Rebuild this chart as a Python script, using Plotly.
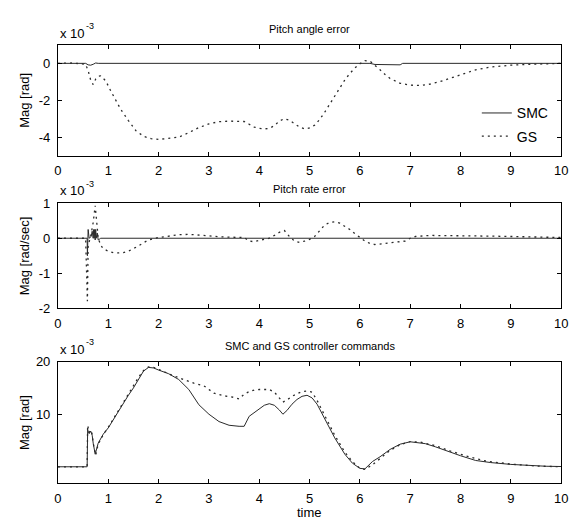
import plotly.graph_objects as go

# ---- Pitch angle error (x 1e-3 rad) ----
t_angle_smc = [0, 0.55, 0.6, 0.65, 0.7, 0.75, 0.8, 6.2, 6.3, 6.8, 6.85, 10]
angle_smc = [0, 0, -0.08, -0.1, -0.05, 0.02, 0, 0, -0.06, -0.08, 0, 0]

t_angle_gs = [0, 0.3, 0.55, 0.6, 0.65, 0.7, 0.75, 0.8, 0.85, 0.95,
              1.05, 1.15, 1.25, 1.4, 1.55, 1.7, 1.85, 2.0, 2.2, 2.4,
              2.6, 2.8, 3.0, 3.2, 3.4, 3.6, 3.7, 3.8, 3.9, 4.0,
              4.1, 4.2, 4.3, 4.4, 4.5, 4.6, 4.7, 4.8, 4.9, 5.0,
              5.1, 5.2, 5.3, 5.4, 5.5, 5.6, 5.7, 5.8, 5.9, 6.0,
              6.1, 6.2, 6.3, 6.4, 6.5, 6.6, 6.8, 7.0, 7.2, 7.4,
              7.6, 7.8, 8.0, 8.3, 8.6, 9.0, 9.4, 9.8, 10]
angle_gs = [0, 0.02, -0.05, -0.4, -0.9, -1.15, -0.85, -0.7, -0.68, -0.95,
            -1.5, -2.0, -2.5, -3.1, -3.65, -3.95, -4.08, -4.12, -4.08, -4.0,
            -3.75, -3.48, -3.28, -3.16, -3.13, -3.12, -3.15, -3.3, -3.45, -3.52,
            -3.55, -3.52, -3.38, -3.12, -3.0, -3.08, -3.25, -3.45, -3.55, -3.5,
            -3.35, -3.05, -2.65, -2.2, -1.75, -1.3, -0.9, -0.55, -0.25, -0.02,
            0.15, 0.12, -0.1, -0.35, -0.6, -0.82, -1.08, -1.18, -1.2, -1.12,
            -0.98, -0.8, -0.62, -0.35, -0.2, -0.1, -0.05, -0.02, 0]

# ---- Pitch rate error (x 1e-3 rad/sec) ----
t_rate_smc = [0, 0.58, 0.585, 0.59, 0.6, 0.62, 0.66, 0.68, 0.7, 0.71,
              0.72, 0.73, 0.74, 0.75, 0.76, 0.78, 0.8, 0.85, 10]
rate_smc = [0, 0, -0.5, 0.2, 0.25, 0.0, 0.05, 0.2, 0.0, 0.25,
            0.0, 0.25, -0.05, 0.25, 0.0, 0.15, -0.05, 0, 0]

t_rate_gs = [0, 0.3, 0.55, 0.585, 0.6, 0.65, 0.7, 0.74, 0.77, 0.8,
             0.85, 0.9, 1.0, 1.1, 1.2, 1.3, 1.4, 1.5, 1.6, 1.7,
             1.8, 2.0, 2.2, 2.4, 2.6, 2.8, 3.0, 3.2, 3.4, 3.6,
             3.7, 3.8, 3.9, 4.0, 4.2, 4.3, 4.4, 4.5, 4.6, 4.7,
             4.8, 4.9, 5.0, 5.1, 5.2, 5.3, 5.4, 5.5, 5.6, 5.7,
             5.8, 5.9, 6.0, 6.1, 6.2, 6.3, 6.5, 6.7, 6.9, 7.0,
             7.1, 7.4, 7.8, 8.2, 8.6, 9.0, 9.5, 10]
rate_gs = [0, 0, 0, -1.8, -0.2, 0.05, 0.45, 0.93, 0.5, 0.0,
           -0.2, -0.3, -0.37, -0.41, -0.42, -0.41, -0.37, -0.3, -0.22, -0.13,
           -0.05, 0.02, 0.06, 0.1, 0.11, 0.1, 0.07, 0.04, 0.03, 0.03,
           0.02, -0.08, -0.1, -0.06, 0.0, 0.08, 0.17, 0.22, 0.05, -0.08,
           -0.12, -0.08, -0.03, 0.05, 0.22, 0.38, 0.45, 0.47, 0.43, 0.35,
           0.25, 0.13, 0.02, -0.08, -0.15, -0.18, -0.15, -0.12, -0.08, 0.0,
           0.05, 0.08, 0.08, 0.08, 0.06, 0.05, 0.03, 0.02]

# ---- Controller commands (x 1e-3 rad) ----
t_cmd_smc = [0, 0.58, 0.59, 0.62, 0.65, 0.68, 0.7, 0.74, 0.8, 0.9,
             1.0, 1.1, 1.2, 1.3, 1.4, 1.5, 1.6, 1.7, 1.8, 1.9,
             2.0, 2.2, 2.4, 2.6, 2.8, 3.0, 3.2, 3.4, 3.6, 3.7,
             3.8, 3.9, 4.0, 4.1, 4.2, 4.3, 4.4, 4.47, 4.55, 4.65,
             4.75, 4.85, 4.95, 5.05, 5.15, 5.3, 5.5, 5.7, 5.85, 6.0,
             6.1, 6.25, 6.4, 6.6, 6.8, 7.0, 7.15, 7.3, 7.5, 7.7,
             8.0, 8.3, 8.6, 9.0, 9.4, 9.7, 10]
cmd_smc = [0, 0, 7.0, 6.3, 6.8, 6.0, 4.5, 2.4, 4.5, 6.2,
           7.4, 9.0, 10.6, 12.2, 13.6, 15.0, 16.6, 18.2, 18.9, 18.8,
           18.4, 17.7, 16.6, 14.7, 11.8, 10.0, 8.6, 7.9, 7.7, 7.7,
           9.6, 10.3, 11.0, 11.7, 12.0, 11.7, 10.8, 10.0, 10.7, 11.9,
           12.8, 13.4, 13.6, 13.1, 11.9, 9.2, 5.5, 2.4, 0.7, -0.3,
           -0.4, 1.0, 1.9, 3.3, 4.3, 4.75, 4.6, 4.4, 3.8, 3.1,
           2.1, 1.2, 0.8, 0.45, 0.2, 0.1, 0.05]

t_cmd_gs = [0, 0.58, 0.59, 0.62, 0.65, 0.68, 0.7, 0.75, 0.8, 0.9,
            1.0, 1.2, 1.4, 1.6, 1.7, 1.8, 1.9, 2.0, 2.1, 2.3,
            2.5, 2.7, 2.9, 3.1, 3.3, 3.5, 3.6, 3.7, 3.8, 3.9,
            4.0, 4.1, 4.2, 4.3, 4.4, 4.47, 4.55, 4.65, 4.75, 4.85,
            4.95, 5.05, 5.15, 5.3, 5.5, 5.7, 5.85, 6.0, 6.1, 6.25,
            6.4, 6.6, 6.8, 7.0, 7.2, 7.5, 7.8, 8.1, 8.5, 9.0,
            9.5, 10]
cmd_gs = [0, 0, 7.9, 6.5, 7.0, 6.2, 4.5, 2.2, 4.3, 6.1,
          7.5, 10.7, 13.8, 17.0, 18.3, 19.0, 18.9, 18.5, 18.0, 17.3,
          16.6, 15.9, 15.4, 14.0, 13.5, 13.2, 12.9, 13.8, 14.3, 14.6,
          14.7, 14.75, 14.7, 14.2, 13.2, 12.3, 12.7, 13.4, 13.9, 14.3,
          14.4, 14.2, 12.6, 9.8, 6.0, 2.8, 1.0, -0.3, -0.5, 0.4,
          1.6, 3.1, 4.2, 4.8, 4.7, 4.0, 3.0, 2.1, 1.1, 0.5,
          0.15, 0.0]

# ---- Axis ticks ----
x_ticks = [0, 1, 2, 3, 4, 5, 6, 7, 8, 9, 10]
angle_ticks = [-4, -2, 0]
rate_ticks = [-2, -1, 0, 1]
cmd_ticks = [10, 20]

W, H = 578, 528
FONT = "Liberation Sans, Arial, sans-serif"
LINE = "#2a2a2a"
DOT = "2px,4px"

# plot-area boxes in pixels: (top, bottom)
boxes = [(39, 153), (202, 310), (365, 490)]
x_left, x_right = 55, 568


def ydom(top, bottom):
    return [1 - bottom / H, 1 - top / H]


fig = go.Figure()

panels = [
    (t_angle_smc, angle_smc, t_angle_gs, angle_gs, "x", "y"),
    (t_rate_smc, rate_smc, t_rate_gs, rate_gs, "x2", "y2"),
    (t_cmd_smc, cmd_smc, t_cmd_gs, cmd_gs, "x3", "y3"),
]
for i, (ts, ys, tg, yg, xa, ya) in enumerate(panels):
    fig.add_trace(go.Scatter(x=ts, y=ys, mode="lines", name="SMC",
                             line=dict(color=LINE, width=1),
                             xaxis=xa, yaxis=ya, showlegend=(i == 0),
                             legendgroup="a"))
    fig.add_trace(go.Scatter(x=tg, y=yg, mode="lines", name="GS",
                             line=dict(color=LINE, width=1.3, dash=DOT),
                             xaxis=xa, yaxis=ya, showlegend=(i == 0),
                             legendgroup="b"))

common_x = dict(range=[0, 10], tickvals=x_ticks,
                ticktext=[str(v) for v in x_ticks],
                domain=[x_left / W, x_right / W], ticks="inside", ticklen=4,
                tickcolor="black", showline=True, linecolor="black",
                linewidth=1, mirror="ticks", showgrid=False, zeroline=False,
                tickfont=dict(family=FONT, size=13, color="black"),
                ticklabelstandoff=3)
common_y = dict(ticks="inside", ticklen=4, tickcolor="black", showline=True,
                linecolor="black", linewidth=1, mirror="ticks",
                showgrid=False, zeroline=False,
                tickfont=dict(family=FONT, size=13, color="black"),
                ticklabelstandoff=4)

fig.update_layout(
    width=W, height=H,
    margin=dict(l=0, r=0, t=0, b=0),
    paper_bgcolor="white", plot_bgcolor="white",
    xaxis=dict(common_x, anchor="y"),
    xaxis2=dict(common_x, anchor="y2"),
    xaxis3=dict(common_x, anchor="y3"),
    yaxis=dict(common_y, domain=ydom(*boxes[0]), range=[-5, 1],
               tickvals=angle_ticks, ticktext=[str(v) for v in angle_ticks],
               anchor="x"),
    yaxis2=dict(common_y, domain=ydom(*boxes[1]), range=[-2, 1],
                tickvals=rate_ticks, ticktext=[str(v) for v in rate_ticks],
                anchor="x2"),
    yaxis3=dict(common_y, domain=ydom(*boxes[2]), range=[-3.1, 20],
                tickvals=cmd_ticks, ticktext=[str(v) for v in cmd_ticks],
                anchor="x3"),
    legend=dict(x=482 / W, y=1 - 93 / H, xanchor="left", yanchor="top",
                bgcolor="rgba(0,0,0,0)", borderwidth=0,
                font=dict(family=FONT, size=14, color="black"),
                tracegroupgap=2),
    showlegend=True,
)

titles = ["Pitch angle error", "Pitch rate error",
          "SMC and GS controller commands"]
ylabels = ["Mag [rad]", "Mag [rad/sec]", "Mag [rad]"]
title_y = [23, 187, 349]
exp_y = [27, 189, 352]

annotations = []
for i in range(3):
    top, bottom = boxes[i]
    annotations.append(dict(text=titles[i], x=(x_left + x_right) / 2 / W,
                            y=1 - title_y[i] / H, xref="paper", yref="paper",
                            xanchor="center", yanchor="middle",
                            showarrow=False,
                            font=dict(family=FONT, size=11, color="black")))
    # scale factor "x 10" with a raised "-3" exponent
    annotations.append(dict(text="x 10", x=x_left / W,
                            y=1 - exp_y[i] / H, xref="paper", yref="paper",
                            xanchor="left", yanchor="middle", showarrow=False,
                            font=dict(family=FONT, size=13, color="black")))
    annotations.append(dict(text="-3", x=(x_left + 27) / W,
                            y=1 - (exp_y[i] - 7) / H, xref="paper",
                            yref="paper", xanchor="left", yanchor="middle",
                            showarrow=False,
                            font=dict(family=FONT, size=9, color="black")))
    annotations.append(dict(text=ylabels[i], x=21 / W,
                            y=1 - (top + bottom) / 2 / H, xref="paper",
                            yref="paper", xanchor="center", yanchor="middle",
                            textangle=-90, showarrow=False,
                            font=dict(family=FONT, size=13, color="black")))
annotations.append(dict(text="time", x=(x_left + x_right) / 2 / W,
                        y=1 - 520 / H, xref="paper", yref="paper",
                        xanchor="center", yanchor="middle", showarrow=False,
                        font=dict(family=FONT, size=13, color="black")))
fig.update_layout(annotations=annotations)

fig.write_html("out.html")
